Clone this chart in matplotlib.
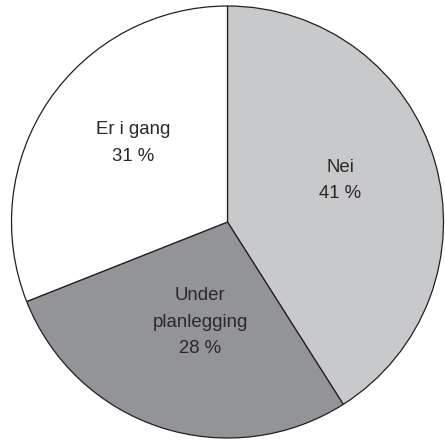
import numpy as np
import matplotlib.pyplot as plt

labels = ['Nei', 'Under\nplanlegging', 'Er i gang']
values = [41, 28, 31]
colors = ['#c8c9cb', '#939497', '#ffffff']

my_dpi = 100
fig = plt.figure(figsize=(445 / my_dpi, 441 / my_dpi), dpi=my_dpi)
ax = fig.add_axes([11.5 / 445, 3 / 441, 432 / 445, 432 / 441])

wedges, _ = ax.pie(values, colors=colors, startangle=90, counterclock=False,
                   radius=1.0,
                   wedgeprops=dict(edgecolor='#231f20', linewidth=0.9))

# Labels placed near the middle angle of each wedge
dists = [0.555, 0.48, 0.57]
nudge = [4.0, 2.7, -5.5]  # degrees
for w, lab, val, d, n in zip(wedges, labels, values, dists, nudge):
    ang = np.deg2rad((w.theta1 + w.theta2) / 2 + n)
    ax.text(d * np.cos(ang), d * np.sin(ang), '%s\n%d %%' % (lab, val),
            ha='center', va='center', fontsize=13.4, color='#2b2829',
            family='Liberation Sans', linespacing=1.75)

ax.set_xlim(-1, 1)
ax.set_ylim(-1, 1)
ax.set_aspect('equal')
ax.axis('off')

plt.savefig('out.png', dpi=my_dpi)
